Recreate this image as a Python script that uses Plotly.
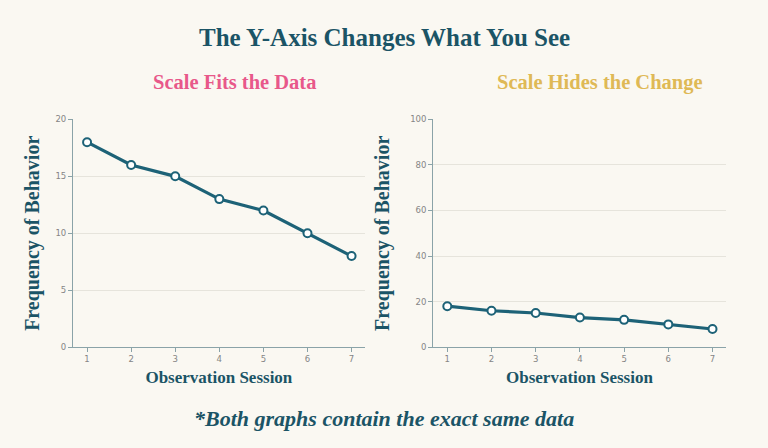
import plotly.graph_objects as go
from plotly.subplots import make_subplots

# observation sessions and frequency counts (same data in both panels)
sessions = [1, 2, 3, 4, 5, 6, 7]
frequency = [18, 16, 15, 13, 12, 10, 8]

left_ticks = [0, 5, 10, 15, 20]
right_ticks = [0, 20, 40, 60, 80, 100]

main_title = "The Y-Axis Changes What You See"
left_title = "Scale Fits the Data"
right_title = "Scale Hides the Change"
footnote = "*Both graphs contain the exact same data"

teal = "#1b5466"
line_col = "#1d6277"
bg = "#faf8f2"
serif = "Liberation Serif, DejaVu Serif, serif"

fig = make_subplots(rows=1, cols=2)

for c in [1, 2]:
    fig.add_trace(go.Scatter(x=sessions, y=frequency, mode='lines+markers',
                             line=dict(color=line_col, width=3.2),
                             marker=dict(size=8, color='white', line=dict(color=line_col, width=2)),
                             showlegend=False, hoverinfo='x+y'), row=1, col=c)

axis_common = dict(showline=True, linecolor="#8aa3a8", linewidth=1,
                   ticks="outside", ticklen=4, tickcolor="#8aa3a8",
                   tickfont=dict(family="DejaVu Sans", size=8.5, color="#858585"),
                   zeroline=False)

fig.update_xaxes(axis_common, tickvals=sessions, range=[0.68, 7.3], showgrid=False,
                 title=dict(text="<b>Observation Session</b>", standoff=7,
                            font=dict(family=serif, size=17, color=teal)))
fig.update_yaxes(axis_common, showgrid=True, gridcolor="#e6e4dc", gridwidth=1,
                 title=dict(text="<b>Frequency of Behavior</b>",
                            font=dict(family=serif, size=20, color=teal)))

ydom = [1 - 350 / 448, 1 - 117 / 448]
fig.update_xaxes(domain=[0.095, 0.475], row=1, col=1)
fig.update_xaxes(domain=[0.564, 0.945], row=1, col=2)
fig.update_yaxes(domain=ydom, range=[0, 20], tickvals=left_ticks,
                 title_standoff=10, row=1, col=1)
fig.update_yaxes(domain=ydom, range=[0, 100], tickvals=right_ticks,
                 title_standoff=15, row=1, col=2)

fig.add_annotation(text="<b>" + main_title + "</b>", x=0.5, y=1 - 33 / 448, xref='paper', yref='paper',
                   showarrow=False, font=dict(family=serif, size=25, color=teal),
                   xanchor='center', yanchor='middle')
fig.add_annotation(text="<b>" + left_title + "</b>", x=234 / 768, y=1 - 79 / 448, xref='paper', yref='paper',
                   showarrow=False, font=dict(family=serif, size=20.5, color="#e8588a"),
                   xanchor='center', yanchor='middle')
fig.add_annotation(text="<b>" + right_title + "</b>", x=600 / 768, y=1 - 79 / 448, xref='paper', yref='paper',
                   showarrow=False, font=dict(family=serif, size=20.5, color="#dfb956"),
                   xanchor='center', yanchor='middle')
fig.add_annotation(text="<b><i>" + footnote + "</i></b>", x=0.5, y=1 - 423 / 448, xref='paper', yref='paper',
                   showarrow=False, font=dict(family=serif, size=22, color=teal),
                   xanchor='center', yanchor='middle')

fig.update_layout(width=768, height=448, margin=dict(l=0, r=0, t=0, b=0),
                  paper_bgcolor=bg, plot_bgcolor=bg)

fig.write_html("out.html", config={'displayModeBar': False},
               post_script="document.body.style.margin='0';")
